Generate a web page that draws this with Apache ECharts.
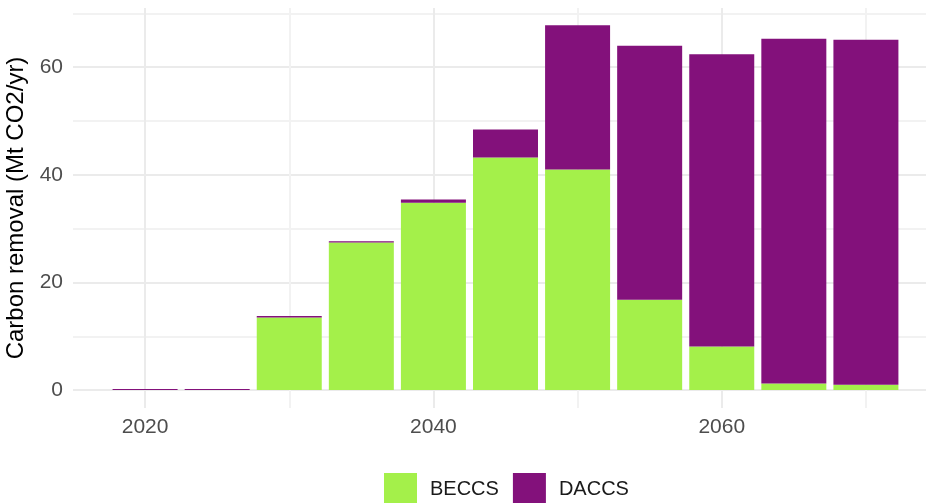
<!DOCTYPE html>
<html>
<head>
<meta charset="utf-8">
<script src="https://cdn.jsdelivr.net/npm/echarts@6/dist/echarts.min.js"></script>
<style>
  html, body { margin: 0; padding: 0; background: #fff; }
  #chart { width: 926px; height: 503px; }
</style>
</head>
<body>
<div id="chart"></div>
<script>
  // years of each bar
  var years = [2020, 2025, 2030, 2035, 2040, 2045, 2050, 2055, 2060, 2065, 2070];
  // Mt CO2/yr
  var beccs = [0, 0, 13.5, 27.4, 34.8, 43.2, 41.0, 16.8, 8.1, 1.2, 1.0];
  var daccs = [0.2, 0.2, 0.25, 0.25, 0.6, 5.2, 26.8, 47.2, 54.3, 64.1, 64.1];
  var seriesNames = ['BECCS', 'DACCS'];

  var font = "'Liberation Sans', Arial, sans-serif";
  var NONE = 'rgba(0,0,0,0)';
  var MAJOR = '#ebebeb';
  var MINOR = '#f2f2f2';

  // value first so the stack is done on the y values
  function rows(vals) {
    return years.map(function (y, i) { return [vals[i], y]; });
  }

  var chart = echarts.init(document.getElementById('chart'));

  chart.setOption({
    animation: false,
    backgroundColor: '#ffffff',
    textStyle: { fontFamily: font },
    grid: { left: 73, right: -12, top: 8, bottom: 95, containLabel: false, outerBoundsMode: 'none' },
    legend: {
      data: seriesNames,
      left: 384,
      top: 473,
      padding: 0,
      icon: 'rect',
      itemWidth: 33,
      itemHeight: 33,
      itemGap: 14,
      textStyle: { fontSize: 20, color: '#1a1a1a', fontFamily: font, padding: [0, 0, 0, 8] }
    },
    xAxis: {
      type: 'value',
      min: 2015,
      max: 2075,
      interval: 5,
      axisLine: { show: false },
      axisTick: { show: false },
      axisLabel: {
        fontSize: 21,
        color: '#4d4d4d',
        margin: 9,
        formatter: function (v) { return v % 20 === 0 ? String(v) : ''; }
      },
      splitLine: {
        show: true,
        lineStyle: { color: [NONE, MAJOR, NONE, MINOR], width: 2 }
      }
    },
    yAxis: {
      type: 'value',
      min: -10 / 3,
      max: 71,
      interval: 10 / 3,
      name: 'Carbon removal (Mt CO2/yr)',
      nameLocation: 'middle',
      nameGap: 37,
      nameTextStyle: { fontSize: 24, color: '#000000', fontFamily: font },
      axisLine: { show: false },
      axisTick: { show: false },
      axisLabel: {
        fontSize: 21,
        color: '#4d4d4d',
        margin: 10,
        formatter: function (v) {
          var r = Math.round(v);
          return (Math.abs(v - r) < 1e-6 && r % 20 === 0) ? String(r) : '';
        }
      },
      splitLine: {
        show: true,
        lineStyle: { color: [NONE, MAJOR, NONE, NONE, MINOR, NONE], width: 2 }
      }
    },
    series: [
      {
        name: 'BECCS',
        type: 'bar',
        stack: 'total',
        barWidth: 65,
        dimensions: ['value', 'year'],
        encode: { x: 'year', y: 'value' },
        itemStyle: { color: '#a4f04a' },
        data: rows(beccs)
      },
      {
        name: 'DACCS',
        type: 'bar',
        stack: 'total',
        barWidth: 65,
        dimensions: ['value', 'year'],
        encode: { x: 'year', y: 'value' },
        itemStyle: { color: '#83117b' },
        data: rows(daccs)
      }
    ]
  });
</script>
</body>
</html>
